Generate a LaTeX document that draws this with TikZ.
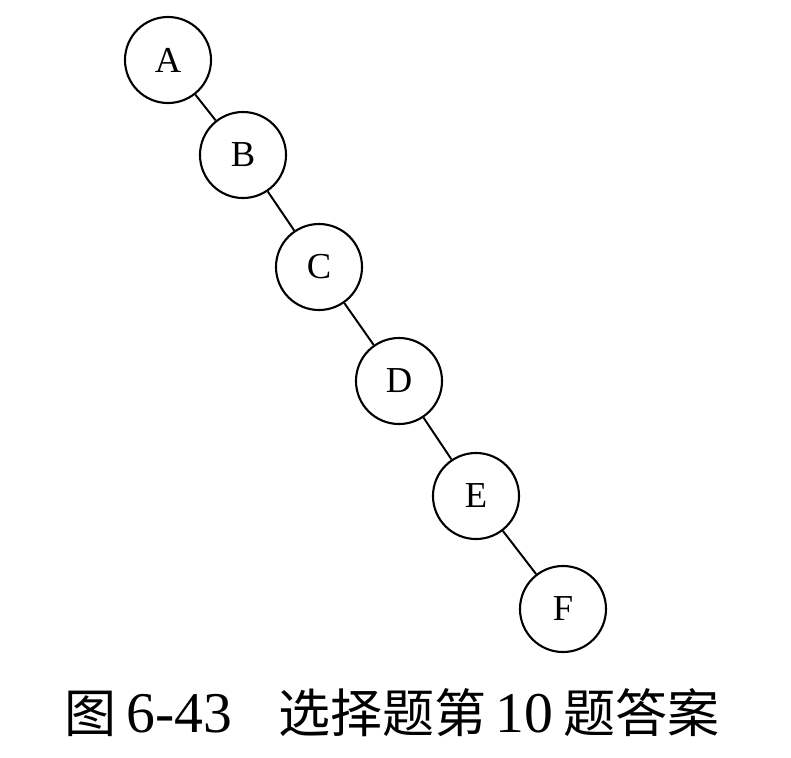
\documentclass[tikz,border=0pt]{standalone}
\usepackage{fontspec}
\setmainfont{Liberation Serif}
\newfontfamily\cjk{Noto Sans CJK SC}
\usetikzlibrary{positioning}

\tikzset{
  treenode/.style={draw, circle, line width=1.5pt, minimum size=2.15cm, inner sep=0pt,
    font=\fontsize{26}{28}\selectfont},
  treeedge/.style={line width=1.4pt}
}

\begin{document}
\begin{tikzpicture}[x=0.025cm, y=-0.025cm]
  \useasboundingbox (0,0) rectangle (791,758);

  % Nodes
  \node[treenode] (A) at (168,60) {A};
  \node[treenode] (B) at (243,155) {B};
  \node[treenode] (C) at (319,267) {C};
  \node[treenode] (D) at (399,381) {D};
  \node[treenode] (E) at (476,496) {E};
  \node[treenode] (F) at (563,609) {F};

  % Edges
  \draw[treeedge] (A) -- (B);
  \draw[treeedge] (B) -- (C);
  \draw[treeedge] (C) -- (D);
  \draw[treeedge] (D) -- (E);
  \draw[treeedge] (E) -- (F);

  % Caption
  \node[font=\fontsize{41}{44}\selectfont] (cap) at (392,713)
    {{\cjk\fontsize{37}{40}\selectfont 图}\,6-43\hspace{0.8em}{\cjk\fontsize{37}{40}\selectfont 选择题第}\,10\,{\cjk\fontsize{37}{40}\selectfont 题答案}};
\end{tikzpicture}
\end{document}
